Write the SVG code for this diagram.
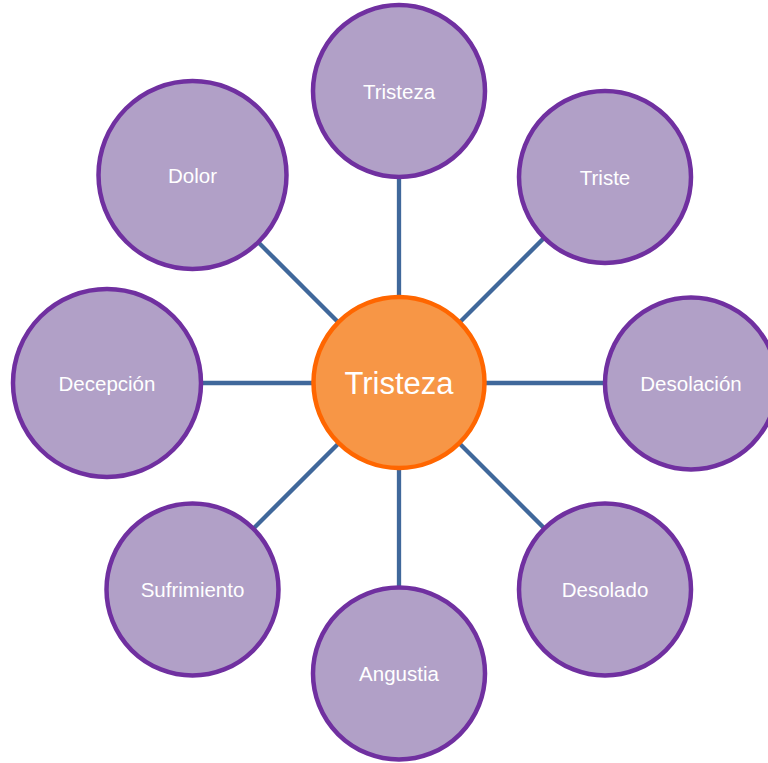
<svg xmlns="http://www.w3.org/2000/svg" width="768" height="763" viewBox="0 0 768 763">
<style>
.link{stroke:#40689B;stroke-width:4.3;fill:none}
.node{fill:#B1A0C7;stroke:#7030A0;stroke-width:4.5}
.hub{fill:#F79646;stroke:#FF6600;stroke-width:4.5}
.lbl{font-family:"Liberation Sans",Arial,sans-serif;font-size:20.5px;fill:#FFFFFF;text-anchor:middle}
.hublbl{font-family:"Liberation Sans",Arial,sans-serif;font-size:31px;fill:#FFFFFF;text-anchor:middle}
</style>
<rect width="768" height="763" fill="#FFFFFF"/>
<g id="connectors">
<line class="link" x1="399" y1="383" x2="399" y2="91"/>
<line class="link" x1="399" y1="383" x2="605" y2="177"/>
<line class="link" x1="399" y1="383" x2="691" y2="383"/>
<line class="link" x1="399" y1="383" x2="605" y2="589"/>
<line class="link" x1="399" y1="383" x2="399" y2="674"/>
<line class="link" x1="399" y1="383" x2="193" y2="589"/>
<line class="link" x1="399" y1="383" x2="107" y2="383"/>
<line class="link" x1="399" y1="383" x2="193" y2="177"/>
</g>
<g id="node-tristeza-top">
<circle class="node" cx="399" cy="91" r="86"/>
<text class="lbl" x="399" y="98.5">Tristeza</text>
</g>
<g id="node-triste">
<circle class="node" cx="605" cy="177" r="86"/>
<text class="lbl" x="605" y="184.5">Triste</text>
</g>
<g id="node-desolacion">
<circle class="node" cx="691" cy="383.5" r="86"/>
<text class="lbl" x="691" y="391">Desolación</text>
</g>
<g id="node-desolado">
<circle class="node" cx="605" cy="589.5" r="86"/>
<text class="lbl" x="605" y="597">Desolado</text>
</g>
<g id="node-angustia">
<circle class="node" cx="399" cy="673.5" r="86"/>
<text class="lbl" x="399" y="681">Angustia</text>
</g>
<g id="node-sufrimiento">
<circle class="node" cx="192.5" cy="589.5" r="86"/>
<text class="lbl" x="192.5" y="597">Sufrimiento</text>
</g>
<g id="node-decepcion">
<circle class="node" cx="107" cy="383" r="94"/>
<text class="lbl" x="107" y="390.5">Decepción</text>
</g>
<g id="node-dolor">
<circle class="node" cx="192.5" cy="175" r="94"/>
<text class="lbl" x="192.5" y="182.5">Dolor</text>
</g>
<g id="node-center">
<circle class="hub" cx="399" cy="382.5" r="85.5"/>
<text class="hublbl" x="399" y="393.5">Tristeza</text>
</g>
</svg>
